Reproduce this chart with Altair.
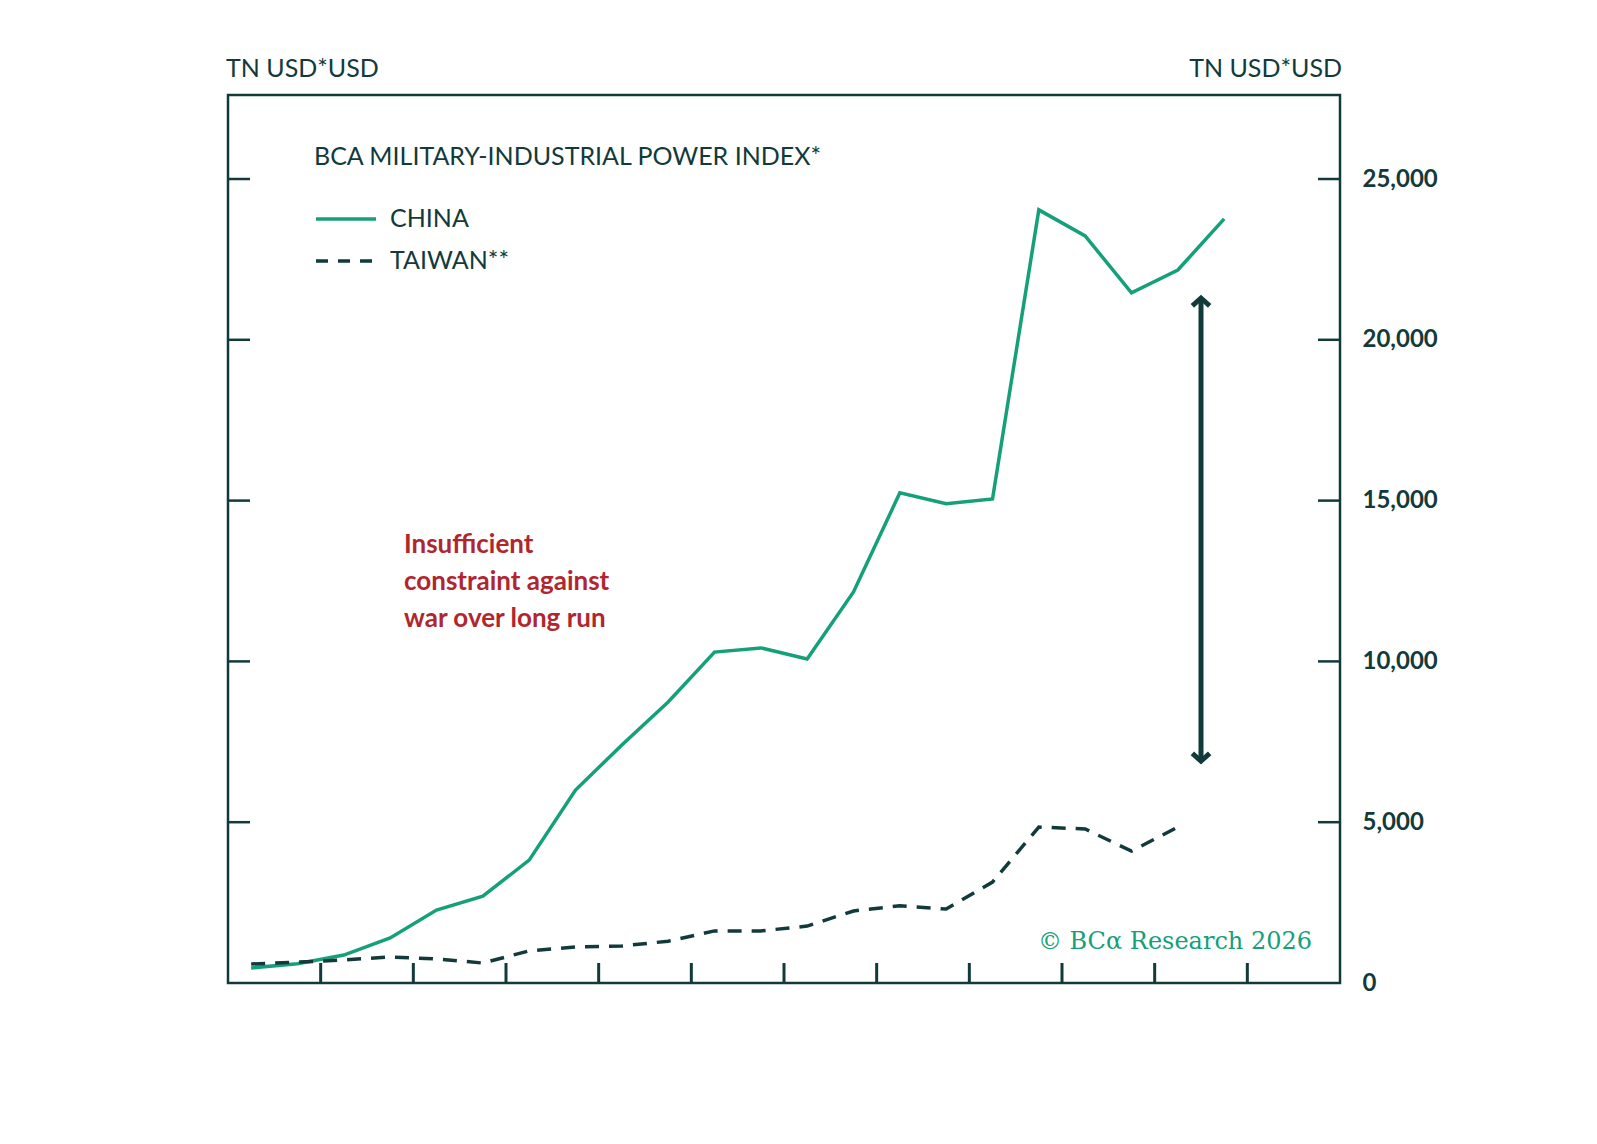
import altair as alt
import pandas as pd

years = [2004.5 + i for i in range(22)]
china = [470, 600, 870, 1400, 2270, 2700, 3820, 6000, 7400, 8740, 10290, 10420,
         10075, 12160, 15240, 14900, 15050, 24040, 23230, 21460, 22170, 23760]
taiwan = [590, 650, 715, 810, 750, 620, 1000, 1120, 1150, 1300, 1620, 1620,
          1770, 2240, 2400, 2300, 3140, 4850, 4790, 4100, 4850]
x_ticks = list(range(2004, 2029, 2))
y_ticks = [0, 5000, 10000, 15000, 20000, 25000]

DARK = "#133a3b"
GREEN = "#16a07a"
RED = "#b1262e"
FONT = "Lato"
W, H = 1112, 888
YMAX = 27612

df_c = pd.DataFrame({"year": years, "value": china})
df_t = pd.DataFrame({"year": years[:len(taiwan)], "value": taiwan})

xs = alt.Scale(domain=[2004, 2028], nice=False)
ys = alt.Scale(domain=[0, YMAX], nice=False)

x_ax = alt.Axis(values=x_ticks, format="d", tickSize=0, domain=False, grid=False,
                labelFontSize=24, labelColor=DARK, labelFont=FONT, labelPadding=18,
                labelFontWeight="bold", title=None)
y_ax = alt.Axis(values=y_ticks, format=",d", tickSize=0, domain=False, grid=False,
                labelFontSize=24, labelColor=DARK, labelFont=FONT, labelPadding=22,
                labelFontWeight="bold", title=None)


def X(field):
    return alt.X(field, scale=xs, axis=None)


def Y(field):
    return alt.Y(field, scale=ys, axis=None)


china_line = alt.Chart(df_c).mark_line(color=GREEN, strokeWidth=3.5).encode(
    x=alt.X("year:Q", scale=xs, axis=x_ax),
    y=alt.Y("value:Q", scale=ys, axis=y_ax),
)
taiwan_line = alt.Chart(df_t).mark_line(color=DARK, strokeWidth=3.5, strokeDash=[14, 10]).encode(
    x=X("year:Q"), y=Y("value:Q")
)

frame = alt.Chart(pd.DataFrame({"a": [0]})).mark_rect(
    fill=None, stroke=DARK, strokeWidth=2.5
).encode(x=alt.value(0), x2=alt.value(W), y=alt.value(0), y2=alt.value(H))

xt = pd.DataFrame({"t": x_ticks[1:-1]})
xtick_marks = alt.Chart(xt).mark_rule(color=DARK, strokeWidth=3).encode(
    x=X("t:Q"), y=alt.value(H), y2=alt.value(H - 20))
yt = pd.DataFrame({"t": y_ticks[1:]})
ytick_l = alt.Chart(yt).mark_rule(color=DARK, strokeWidth=2.5).encode(
    y=Y("t:Q"), x=alt.value(0), x2=alt.value(22))
ytick_r = alt.Chart(yt).mark_rule(color=DARK, strokeWidth=2.5).encode(
    y=Y("t:Q"), x=alt.value(W - 22), x2=alt.value(W))

arrow = alt.Chart(pd.DataFrame({"x": [2025], "y1": [6900], "y2": [21300]})).mark_rule(
    color=DARK, strokeWidth=5).encode(x=X("x:Q"), y=Y("y1:Q"), y2="y2:Q")
heads = alt.Chart(pd.DataFrame({"x": [2025, 2025], "y": [21300, 6900], "a": [0, 180]})).mark_point(
    shape="M-1,0.9 L0,0 L1,0.9", filled=False, color=DARK, strokeWidth=5, size=300, opacity=1
).encode(x=X("x:Q"), y=Y("y:Q"), angle=alt.Angle("a:Q", scale=None))


def txt(text, x, y, size=24, color=DARK, weight="normal", align="left", font=FONT):
    return alt.Chart(pd.DataFrame({"t": [text]})).mark_text(
        align=align, baseline="middle", fontSize=size, color=color, fontWeight=weight, font=font
    ).encode(text="t:N", x=alt.value(x), y=alt.value(y))


labels = [
    txt("BCA MILITARY-INDUSTRIAL POWER INDEX*", 86, 62, 25),
    txt("CHINA", 162, 124, 25),
    txt("TAIWAN**", 162, 166, 25),
    txt("TN USD*USD", -2, -26, 25, align="left"),
    txt("TN USD*USD", W + 2, -26, 25, align="right"),
    txt("Insufficient", 176, 450, 26, RED, "bold"),
    txt("constraint against", 176, 487, 26, RED, "bold"),
    txt("war over long run", 176, 524, 26, RED, "bold"),
    txt("© BCα Research 2026", W - 28, 847, 24, GREEN, align="right", font="DejaVu Serif"),
]
leg_c = alt.Chart(pd.DataFrame({"a": [0]})).mark_rule(color=GREEN, strokeWidth=3.5).encode(
    x=alt.value(88), x2=alt.value(148), y=alt.value(124))
leg_t = alt.Chart(pd.DataFrame({"a": [0]})).mark_rule(color=DARK, strokeWidth=3.5, strokeDash=[12, 10]).encode(
    x=alt.value(88), x2=alt.value(150), y=alt.value(166))

main = alt.layer(
    china_line, taiwan_line, frame, xtick_marks, ytick_l, ytick_r,
    arrow, heads, leg_c, leg_t, *labels
)

right_axis = alt.Chart(pd.DataFrame({"v": [0]})).mark_point(opacity=0).encode(
    y=alt.Y("v:Q", scale=ys, axis=alt.Axis(values=y_ticks, format=",d", orient="right",
            tickSize=0, domain=False, grid=False, labelFontSize=24, labelColor=DARK,
            labelFont=FONT, labelPadding=22, labelFontWeight="bold", title=None))
)

chart = alt.layer(main, right_axis).resolve_scale(y="independent").properties(
    width=W, height=H, autosize=alt.AutoSizeParams(type="none"),
    padding={"left": 220, "top": 87, "right": 240, "bottom": 150},
).configure_view(stroke=None).configure(background="white")

chart.save("out.html", embed_options={"renderer": "svg", "actions": False})
